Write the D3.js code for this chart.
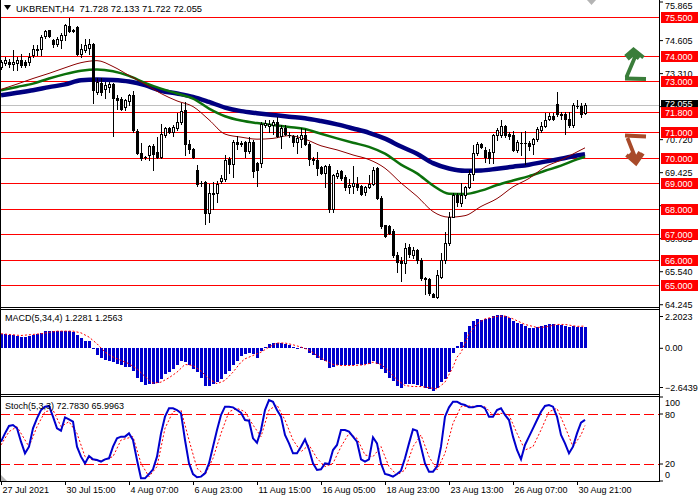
<!DOCTYPE html>
<html><head><meta charset="utf-8">
<script src="https://cdn.jsdelivr.net/npm/d3@7"></script>
<style>body{margin:0;background:#fff}svg{display:block}text{font-family:"Liberation Sans",Arial,sans-serif}</style>
</head><body><svg id="c" width="700" height="500"></svg>
<script>
// ---- data ----
const opens=[73.55,73.71,73.75,73.66,73.71,73.82,73.75,73.75,74.01,74.23,74.27,74.76,74.99,74.62,74.44,74.62,74.79,75.15,75.00,75.12,74.05,74.23,74.31,74.47,72.57,72.93,72.70,72.77,72.87,72.35,72.31,71.99,72.22,72.44,71.05,70.18,70.03,70.09,70.45,70.22,70.03,70.88,71.14,71.01,71.14,71.40,71.88,70.55,70.35,69.53,69.01,69.05,67.83,68.56,68.62,69.09,69.14,69.96,69.74,70.62,70.56,70.62,70.26,70.62,69.77,69.77,71.27,71.23,71.27,71.40,70.84,71.14,70.88,70.84,70.61,70.71,70.88,70.55,69.93,69.90,69.61,69.40,69.66,68.00,69.27,69.48,69.22,68.83,68.88,68.98,68.88,68.66,68.83,68.98,69.57,68.43,67.35,67.31,67.13,66.17,65.95,65.85,66.50,66.17,66.37,65.98,65.26,65.22,64.65,64.52,65.33,65.98,66.63,67.68,68.53,68.20,68.53,68.83,69.35,70.16,70.52,70.29,70.22,70.22,70.88,70.88,71.23,70.94,70.88,70.29,70.58,70.57,70.58,70.55,70.71,71.07,71.23,71.53,71.62,72.09,71.66,71.70,71.53,71.27,72.02,72.01,71.728];
const highs=[73.82,73.95,73.88,74.23,73.95,74.08,73.82,74.10,74.40,74.40,74.79,75.02,75.02,74.66,74.73,74.89,75.23,75.49,75.06,75.15,74.47,74.66,74.66,74.49,73.10,73.10,72.97,72.97,72.93,72.44,72.38,72.31,72.51,72.61,71.10,70.58,70.05,70.48,70.55,70.79,71.31,71.20,71.20,71.27,71.73,72.14,72.18,70.68,70.39,69.70,69.09,69.09,68.98,69.05,69.09,69.31,70.09,70.03,70.68,70.84,70.65,70.65,70.81,70.68,69.83,71.40,71.46,71.46,71.46,71.59,71.27,71.27,71.01,70.88,70.88,71.14,71.10,70.61,70.03,70.22,69.66,69.70,69.74,69.35,69.50,69.50,69.31,69.14,69.66,69.22,68.92,68.88,69.31,69.64,69.64,68.49,67.35,67.35,67.18,66.30,66.11,66.63,66.61,66.50,66.40,66.04,65.30,65.26,64.67,65.59,66.24,67.09,67.87,68.59,68.59,69.01,68.88,69.50,70.48,70.62,70.58,70.42,70.35,70.94,71.14,71.46,71.27,71.01,71.05,70.68,71.01,71.05,70.65,70.78,71.20,71.40,71.73,71.73,71.73,72.57,71.79,71.79,71.79,72.12,72.27,72.12,72.133];
const lows=[73.49,73.62,73.55,73.45,73.45,73.55,73.55,73.62,73.95,74.01,74.01,74.70,74.73,74.34,74.36,74.31,74.60,74.91,74.92,74.01,73.95,74.14,74.08,72.14,72.51,72.44,72.35,72.57,70.84,71.92,71.86,71.86,72.05,71.01,70.13,69.92,69.93,69.90,69.53,70.00,70.00,70.81,70.97,70.84,71.07,71.31,70.09,70.16,70.00,68.88,68.88,67.39,67.48,68.00,68.26,69.01,69.09,69.40,69.22,70.35,70.45,70.03,70.16,69.24,68.88,69.64,71.20,71.01,70.94,70.81,70.39,70.88,70.81,70.45,70.16,70.42,70.48,69.70,69.74,69.31,69.37,68.83,67.87,67.87,69.18,69.11,68.72,68.62,68.62,68.72,68.52,68.52,68.79,68.92,68.39,67.22,66.87,66.99,66.11,65.52,65.17,65.46,66.11,66.04,65.85,65.19,64.65,64.61,64.52,64.48,65.26,65.85,66.57,67.65,68.09,68.09,68.43,68.79,69.11,70.09,70.39,69.83,69.77,69.79,70.68,70.81,70.81,70.71,70.26,70.22,70.09,69.74,70.29,70.13,70.65,71.01,71.18,71.49,71.46,71.62,71.53,70.94,71.20,71.20,71.96,71.57,71.722];
const closes=[73.75,73.84,73.68,73.75,73.82,73.62,73.62,73.95,74.27,74.27,74.73,74.96,74.76,74.47,74.66,74.79,75.19,74.96,74.98,74.08,74.27,74.40,74.47,72.64,72.97,72.57,72.84,72.90,72.35,72.25,71.92,72.27,72.44,71.07,70.18,70.00,70.02,70.45,70.13,70.03,70.92,71.14,71.01,71.20,71.40,71.83,70.55,70.32,70.03,68.98,69.00,67.83,68.62,68.62,68.98,69.18,69.90,69.74,70.62,70.52,70.55,70.26,70.62,69.48,69.50,71.33,71.36,71.33,71.40,70.84,71.14,70.92,70.87,70.62,70.75,70.88,70.52,69.96,69.92,69.57,69.40,69.66,68.00,69.31,69.40,69.18,68.83,68.92,69.01,68.85,68.56,68.83,68.96,69.53,68.43,67.31,66.92,67.05,66.17,65.91,65.87,66.47,66.21,66.37,65.98,65.26,65.22,64.67,64.54,65.39,65.98,66.63,67.68,68.53,68.26,68.53,68.83,69.37,70.16,70.52,70.42,70.03,70.00,70.88,71.07,71.23,70.88,70.84,70.29,70.62,70.57,70.58,70.44,70.71,71.10,71.23,71.49,71.62,71.53,71.70,71.72,71.53,71.27,72.05,72.01,71.72,72.055];

const maIdx=[0,4,8,12,16,20,24,28,32,36,40,44,48,52,56,60,64,68,72,76,80,84,88,92,96,100,104,108,112,116,120,124,128,132,136,140,144,146];
const maRed=[72.67,72.88,73.10,73.30,73.52,73.72,73.80,73.57,73.22,72.88,72.51,72.22,72.00,71.48,70.92,70.80,70.72,70.75,70.86,70.72,70.46,70.30,70.10,69.92,69.58,69.00,68.48,67.88,67.66,67.72,68.08,68.39,68.85,69.18,69.63,69.90,70.22,70.38];
const maGreen=[72.64,72.77,72.90,73.10,73.27,73.40,73.45,73.38,73.20,72.93,72.70,72.51,72.31,71.92,71.62,71.45,71.35,71.28,71.20,71.12,70.93,70.75,70.58,70.42,70.15,69.72,69.38,68.90,68.58,68.57,68.70,68.92,69.10,69.27,69.48,69.68,69.93,70.03];
const maBlue=[72.44,72.54,72.64,72.76,72.87,73.03,73.06,73.04,72.98,72.84,72.62,72.51,72.38,72.18,71.96,71.82,71.74,71.67,71.60,71.54,71.43,71.30,71.14,70.97,70.74,70.43,70.15,69.78,69.57,69.48,69.49,69.56,69.64,69.72,69.84,69.95,70.08,70.13];

const macdHist=[0.82,0.78,0.72,0.72,0.67,0.63,0.63,0.67,0.74,0.82,0.89,0.99,0.97,0.95,0.95,0.97,0.99,0.99,0.92,0.72,0.59,0.43,0.43,-0.05,-0.42,-0.55,-0.67,-0.74,-0.80,-0.89,-0.99,-1.08,-1.08,-1.31,-1.69,-1.94,-2.13,-2.03,-2.03,-2.00,-1.75,-1.50,-1.37,-1.18,-0.99,-0.74,-0.80,-0.99,-1.18,-1.37,-1.69,-2.15,-2.15,-2.03,-1.94,-1.75,-1.46,-1.28,-0.99,-0.71,-0.47,-0.36,-0.29,-0.36,-0.55,-0.17,0.06,0.21,0.29,0.32,0.29,0.25,0.15,0.06,0.02,0.06,-0.04,-0.29,-0.42,-0.55,-0.67,-0.71,-1.12,-1.08,-0.99,-0.99,-0.95,-0.95,-0.95,-0.93,-0.95,-0.93,-0.89,-0.74,-0.93,-1.18,-1.43,-1.69,-1.88,-2.18,-2.26,-2.07,-2.03,-2.07,-2.13,-2.18,-2.26,-2.32,-2.42,-2.26,-1.94,-1.75,-1.37,-0.29,0.10,0.35,0.92,1.24,1.54,1.67,1.61,1.65,1.73,1.81,1.88,1.90,1.85,1.73,1.54,1.43,1.35,1.29,1.16,1.14,1.20,1.25,1.31,1.35,1.35,1.33,1.31,1.25,1.20,1.24,1.20,1.20,1.2281];
const macdSigIdx=[0,5,10,14,18,20,22,24,26,28,30,32,34,36,38,40,42,44,46,48,50,52,54,56,58,60,61,63,65,67,69,71,73,75,77,79,81,83,85,88,91,93,95,97,99,101,103,105,107,109,111,113,114,115,117,119,121,124,126,128,131,134,136,139,141,144,146];
const macdSigVal=[0.82,0.72,0.82,0.97,0.97,0.87,0.63,0.25,-0.23,-0.51,-0.70,-0.89,-1.18,-1.62,-2.00,-1.94,-1.69,-1.37,-0.93,-0.99,-1.31,-1.75,-2.03,-1.84,-1.37,-0.80,-0.61,-0.42,-0.23,0.06,0.29,0.29,0.19,0.06,-0.10,-0.42,-0.70,-0.93,-0.99,-0.99,-0.95,-0.80,-0.93,-1.31,-1.81,-2.13,-2.19,-2.19,-2.26,-2.32,-1.94,-1.08,-0.51,-0.25,0.82,1.39,1.67,1.81,1.83,1.67,1.35,1.18,1.20,1.35,1.35,1.24,1.2563];

const stochMain=[46.8,56.7,65.5,66.7,62.7,46.8,32.9,40.9,62.7,74.6,84.5,88.5,89.3,76.6,62.7,59.9,75.8,73.4,70.6,40.9,29.0,21.0,29.8,25.8,25.0,23.0,25.8,27.0,40.9,50.8,52.8,52.8,56.7,48.8,25.0,3.2,3.2,8.3,13.9,29.0,56.7,76.6,86.5,86.5,84.5,80.6,48.8,21.0,8.3,4.4,5.2,9.1,21.0,40.9,60.7,78.6,88.5,88.5,87.7,84.5,81.3,72.6,71.8,50.8,45.6,60.7,84.5,96.4,94.4,84.5,76.6,54.8,44.8,32.9,32.9,40.9,49.6,37.7,21.0,13.1,13.9,21.0,20.2,36.9,42.9,60.7,60.7,58.7,52.8,46.8,25.8,23.0,25.8,52.0,44.8,21.0,8.3,7.1,5.2,8.3,12.3,27.0,44.8,61.5,59.9,40.9,21.0,11.1,11.1,17.1,40.9,76.6,87.7,94.4,94.4,91.7,90.5,87.7,87.7,89.3,89.3,86.5,76.6,76.6,84.5,86.5,78.6,72.6,52.8,36.9,25.8,42.9,52.8,62.7,72.6,82.5,89.3,90.5,88.5,76.6,54.8,44.8,32.9,40.9,56.7,69.4,72.783];
const stochSigIdx=[0,2,4,6,7,9,11,13,15,17,19,21,23,25,28,30,33,35,37,39,41,43,45,47,49,51,53,55,57,59,61,63,65,67,69,71,73,75,77,79,81,83,85,87,89,91,93,95,97,99,101,103,105,107,109,111,113,115,117,119,121,123,125,127,129,131,133,135,137,139,141,143,145,146];
const stochSigVal=[42.9,58.7,64.7,48.8,40.9,64.7,82.5,84.5,64.7,70.6,56.7,29.0,25.0,24.2,29.0,48.8,52.8,21.0,5.2,17.1,62.7,82.5,84.5,48.8,15.1,7.1,27.0,56.7,82.5,86.5,82.5,66.7,52.8,84.5,90.5,72.6,48.8,34.9,42.9,27.0,17.1,21.0,40.9,56.7,50.8,31.0,29.0,40.9,17.1,7.1,13.1,40.9,54.8,29.0,13.1,32.9,68.7,88.5,89.3,88.5,88.5,78.6,80.6,78.6,56.7,36.9,40.9,60.7,82.5,86.5,64.7,40.9,54.8,65.9963];

const levels=[75.5,74,73,71.8,71,70,69,68,67,66,65];
const priceTicks=[74.605,73.310,72.015,70.720,69.425,68.130,66.835,65.540,64.245];
const hiddenTickLabels=[72.015,68.130]; // fully covered by the price boxes in the reference
const priceTop=75.865;
const lastPrice=72.055;
const macdLabels=[2.2023,0,-2.6439];
const stochLevels=[80,20];
const stochLabels=[100,80,20,0];
const timeIdx=[0,16,32,48,64,80,96,112,128,144];
const timeLabels=["27 Jul 2021","30 Jul 15:00","4 Aug 07:00","6 Aug 23:00","11 Aug 15:00","16 Aug 05:00","18 Aug 23:00","23 Aug 13:00","26 Aug 07:00","30 Aug 21:00"];
const titleMain="UKBRENT,H4  71.728 72.133 71.722 72.055";
const titleMacd="MACD(5,34,4) 1.2281 1.2563";
const titleStoch="Stoch(5,3,3) 72.7830 65.9963";

// ---- layout ----
const svg=d3.select("#c");
svg.append("rect").attr("width",700).attr("height",500).attr("fill","#fff");
const RX=660;
const x=d3.scaleLinear().domain([0,146]).range([1,585]);
const y=d3.scaleLinear().domain([65,75.5]).range([285,17.3]);
const yM=d3.scaleLinear().domain([-2.6439,2.2023]).range([394.5,309.5]);
const yS=d3.scaleLinear().domain([0,100]).range([481,397]);
const FONT=9;

// ---- main panel ----
const g=svg.append("g");
g.append("line").attr("x1",0).attr("x2",RX).attr("y1",Math.round(y(lastPrice))+0.5).attr("y2",Math.round(y(lastPrice))+0.5)
 .attr("stroke","#c0c0c0").attr("stroke-width",1);
g.selectAll("line.lvl").data(levels).join("line").attr("class","lvl")
 .attr("x1",0).attr("x2",RX).attr("y1",d=>Math.round(y(d))+0.5).attr("y2",d=>Math.round(y(d))+0.5)
 .attr("stroke","#ff0000").attr("stroke-width",1);

const maLine=arr=>d3.line().x((d,k)=>x(maIdx[k])).y(d=>y(d)).curve(d3.curveMonotoneX)(arr);
g.append("path").attr("d",maLine(maBlue)).attr("fill","none").attr("stroke","#000080").attr("stroke-width",4.5);
g.append("path").attr("d",maLine(maGreen)).attr("fill","none").attr("stroke","#0b700b").attr("stroke-width",2.5);
g.append("path").attr("d",maLine(maRed)).attr("fill","none").attr("stroke","#8b0000").attr("stroke-width",1);

const cg=g.append("g").attr("shape-rendering","crispEdges");
opens.forEach((o,i)=>{
  const c=closes[i],h=highs[i],l=lows[i];
  const cx=Math.round(x(i));
  cg.append("line").attr("x1",cx+0.5).attr("x2",cx+0.5).attr("y1",Math.round(y(h))).attr("y2",Math.round(y(l))+1).attr("stroke","#000");
  const top=Math.round(y(Math.max(o,c))), bot=Math.round(y(Math.min(o,c)));
  if(bot-top<2){
    cg.append("rect").attr("x",cx-1).attr("y",top).attr("width",3).attr("height",Math.max(1,bot-top+1)).attr("fill","#000");
  } else if(c>=o){
    cg.append("rect").attr("x",cx-0.5).attr("y",top+0.5).attr("width",2).attr("height",bot-top).attr("fill","#fff").attr("stroke","#000");
  } else {
    cg.append("rect").attr("x",cx-1).attr("y",top).attr("width",3).attr("height",bot-top+1).attr("fill","#000");
  }
});

// arrows
g.append("path").attr("d","M625.5,56.5 L633.5,49.5 L643.5,57.5 M627.5,59 L633.5,54 L639,58.5 M635,57 L626.5,77 M625,78.5 L646,79")
 .attr("fill","none").attr("stroke","#3a7d3a").attr("stroke-width",3.8).attr("stroke-linejoin","miter");
g.append("path").attr("d","M625,135.5 L646,136.5 M627.5,138 L635,157 M626.5,155 L636,163.5 L643,153.5 M630,153 L636,158.5 L640,152")
 .attr("fill","none").attr("stroke","#a84a2a").attr("stroke-width",3.8).attr("stroke-linejoin","miter");

// markers
svg.append("path").attr("d","M587,0 L596,0 L591.5,5 Z").attr("fill","#b4b4b4");
svg.append("path").attr("d","M1,475 L1,481 L7,481 Z").attr("fill","#b4b4b4");

// title
svg.append("path").attr("d","M4,5 L11,5 L7.5,10 Z").attr("fill","#000");
svg.append("text").attr("x",16).attr("y",11.5).attr("font-size",9.4).attr("fill","#000").attr("xml:space","preserve").text(titleMain);

// ---- MACD panel ----
const mg=svg.append("g").attr("shape-rendering","crispEdges");
macdHist.forEach((v,i)=>{
  const cx=Math.round(x(i));
  const y0=Math.round(yM(0)), y1=Math.round(yM(v));
  mg.append("rect").attr("x",cx-1).attr("y",Math.min(y0,y1)).attr("width",3).attr("height",Math.max(1,Math.abs(y1-y0))).attr("fill","#0000cd");
});
svg.append("path").attr("d",d3.line().x((d,k)=>x(macdSigIdx[k])).y(d=>yM(d))(macdSigVal))
 .attr("fill","none").attr("stroke","#ff0000").attr("stroke-width",1).attr("stroke-dasharray","2,2");
svg.append("text").attr("x",5).attr("y",321).attr("font-size",FONT).text(titleMacd);

// ---- Stoch panel ----
const sg=svg.append("g");
sg.selectAll("line.sl").data(stochLevels).join("line").attr("class","sl")
 .attr("x1",0).attr("x2",RX).attr("y1",d=>Math.round(yS(d))+0.5).attr("y2",d=>Math.round(yS(d))+0.5)
 .attr("stroke","#ff0000").attr("stroke-dasharray","10,4").attr("shape-rendering","crispEdges");
sg.append("path").attr("d",d3.line().x((d,k)=>x(stochSigIdx[k])).y(d=>yS(d))(stochSigVal))
 .attr("fill","none").attr("stroke","#ff0000").attr("stroke-width",1).attr("stroke-dasharray","2,2");
sg.append("path").attr("d",d3.line().x((d,k)=>x(k)).y(d=>yS(d))(stochMain))
 .attr("fill","none").attr("stroke","#0000cd").attr("stroke-width",2);
svg.append("text").attr("x",5).attr("y",409).attr("font-size",FONT).text(titleStoch);

// ---- frames ----
const fr=svg.append("g").attr("stroke","#000").attr("shape-rendering","crispEdges");
[307.5,309.5,394.5,396.5,481.5].forEach(yy=>fr.append("line").attr("x1",0).attr("x2",RX).attr("y1",yy).attr("y2",yy));
fr.append("line").attr("x1",0.5).attr("x2",0.5).attr("y1",0).attr("y2",482);
fr.append("line").attr("x1",RX-0.5).attr("x2",RX-0.5).attr("y1",0).attr("y2",482);

// ---- right axes ----
const ax=svg.append("g").attr("transform",`translate(${RX},0)`);
const pa=d3.axisRight(y).tickValues(priceTicks).tickSize(3).tickPadding(2)
  .tickFormat(d=>hiddenTickLabels.includes(d)?"":d3.format(".3f")(d));
ax.append("g").call(pa).call(s=>{s.select(".domain").remove();s.selectAll("text").attr("font-size",FONT).attr("font-family","Liberation Sans, Arial, sans-serif").attr("fill","#000");s.selectAll("line").attr("stroke","#000");});
ax.append("line").attr("x1",0).attr("x2",3).attr("y1",2).attr("y2",2).attr("stroke","#000");
ax.append("text").attr("x",5).attr("y",y(priceTop)-2).attr("dy","0.35em").attr("font-size",FONT).text(d3.format(".3f")(priceTop));
// current price box
ax.append("rect").attr("x",1).attr("y",Math.round(y(lastPrice))-5).attr("width",37).attr("height",11).attr("fill","#000");
ax.append("text").attr("x",5).attr("y",y(lastPrice)-1).attr("dy","0.35em").attr("font-size",FONT).attr("fill","#fff").text(d3.format(".3f")(lastPrice));
// level boxes
const lb=ax.selectAll("g.lb").data(levels).join("g").attr("class","lb").attr("transform",d=>`translate(0,${Math.round(y(d))})`);
lb.append("rect").attr("x",1).attr("y",-5).attr("width",37).attr("height",11).attr("fill","#ff0000");
lb.append("text").attr("x",5).attr("y",0.5).attr("dy","0.35em").attr("font-size",FONT).attr("fill","#fff").text(d=>d3.format(".3f")(d));

// macd labels
const macdPos=[316.5,348.3,387.5];
macdLabels.forEach((v,k)=>{
  ax.append("line").attr("x1",0).attr("x2",3).attr("y1",macdPos[k]).attr("y2",macdPos[k]).attr("stroke","#000");
  ax.append("text").attr("x",5).attr("y",macdPos[k]).attr("dy","0.35em").attr("font-size",FONT).text(v===0?"0.00":d3.format(".4f")(v));
});
// stoch labels
const stPos=[403,415,464,474.5];
stochLabels.forEach((v,k)=>{
  ax.append("line").attr("x1",0).attr("x2",3).attr("y1",Math.round(yS(v))).attr("y2",Math.round(yS(v))).attr("stroke","#000");
  ax.append("text").attr("x",5).attr("y",stPos[k]).attr("dy","0.35em").attr("font-size",FONT).text(v);
});

// ---- time axis ----
const ta=d3.axisBottom(x).tickValues(timeIdx).tickSize(4).tickFormat((d,k)=>timeLabels[k]);
svg.append("g").attr("transform","translate(0,481)").call(ta).call(s=>{
  s.select(".domain").remove();
  s.selectAll("line").attr("stroke","#000");
  s.selectAll("text").attr("text-anchor","start").attr("x",1).attr("y",6).attr("dy","0.71em").attr("font-size",FONT).attr("font-family","Liberation Sans, Arial, sans-serif").attr("fill","#000");
});
</script></body></html>
